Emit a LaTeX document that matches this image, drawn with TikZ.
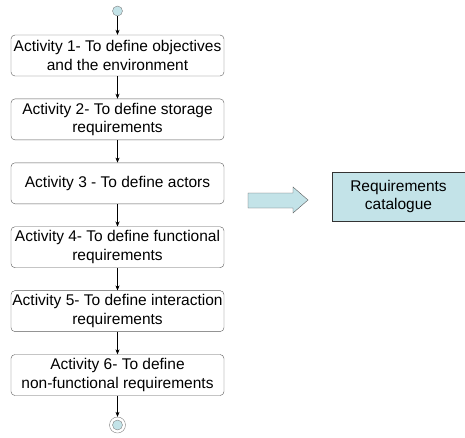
\documentclass[tikz,border=0pt]{standalone}
\usepackage{fontspec}
\setmainfont{Liberation Sans}
\usetikzlibrary{positioning,arrows.meta}
\definecolor{paleblue}{HTML}{C3E3E8}
\definecolor{edgegray}{HTML}{5A5A5A}
\tikzset{
  activity/.style={draw=edgegray, rounded corners=4pt, minimum width=213pt, minimum height=41pt,
    inner sep=0pt, align=center, font=\fontsize{15.5}{18.5}\selectfont},
  flow/.style={-{Stealth[length=5pt,width=4pt]}, thin},
}
\begin{document}
\begin{tikzpicture}[x=1pt, y=-1pt, node distance=22.5pt]
        \useasboundingbox (0,0) rectangle (465,437);
        \node [circle, draw=gray, fill=paleblue, minimum size=10pt, inner sep=0pt] (start) at (117.5,11) {};
        \node [activity] (act1) at (117.5,55.5) {Activity 1- To define objectives\\and the environment};
        \node [activity, below=of act1] (act2) {Activity 2- To define storage\\requirements};
        \node [activity, below=of act2] (act3) {Activity 3 - To define actors};
        \node [activity, below=of act3] (act4) {Activity 4- To define functional\\requirements};
        \node [activity, below=of act4] (act5) {Activity 5- To define interaction\\requirements};
        \node [activity, below=of act5] (act6) {Activity 6- To define\\non-functional requirements};
        \node [circle, draw=gray, minimum size=16pt, inner sep=0pt] (stop) at (117.5,425) {};
        \node [circle, draw=gray, fill=paleblue, minimum size=10pt, inner sep=0pt] at (stop) {};
        \draw [flow] (start) -- (act1);
        \draw [flow] (act1) -- (act2);
        \draw [flow] (act2) -- (act3);
        \draw [flow] (act3) -- (act4);
        \draw [flow] (act4) -- (act5);
        \draw [flow] (act5) -- (act6);
        \draw [flow] (act6) -- (stop);
        % block arrow towards the catalogue
        \draw [draw=edgegray, fill=paleblue] (248,193) -- (293,193) -- (293,187) -- (308,200)
              -- (293,213) -- (293,208) -- (248,208) -- cycle;
        \node [draw=black!80, fill=paleblue, minimum width=133pt, minimum height=49pt, inner sep=0pt,
               align=center, font=\fontsize{15.5}{18.5}\selectfont] (catalogue) at (398.5,196.5)
              {Requirements\\catalogue};
\end{tikzpicture}
\end{document}
